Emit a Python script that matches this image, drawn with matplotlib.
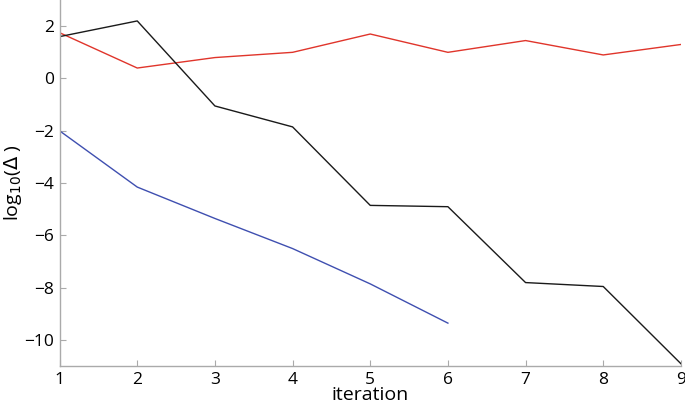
import matplotlib
matplotlib.use('Agg')
import matplotlib.pyplot as plt

plt.rcParams['font.family'] = ['Open Sans', 'DejaVu Sans']

iters = [1, 2, 3, 4, 5, 6, 7, 8, 9]
red_vals = [1.75, 0.4, 0.8, 1.0, 1.7, 1.0, 1.45, 0.9, 1.3]
black_vals = [1.6, 2.2, -1.05, -1.85, -4.85, -4.9, -7.8, -7.95, -10.9]
blue_iters = [1, 2, 3, 4, 5, 6]
blue_vals = [-2.0, -4.15, -5.35, -6.5, -7.85, -9.35]

fig = plt.figure(figsize=(6.85, 4.07), dpi=100)
ax = fig.add_axes([0.087, 0.1, 0.907, 0.9])

ax.plot(iters, red_vals, color='#e0352b', lw=1.0)
ax.plot(iters, black_vals, color='#1a1a1a', lw=1.0)
ax.plot(blue_iters, blue_vals, color='#3f4fb0', lw=1.0)

ax.set_xlim(1, 9)
ax.set_ylim(-11, 3)
ax.set_xticks(iters)
ax.set_yticks([-10, -8, -6, -4, -2, 0, 2])
ax.set_yticklabels(['\u221210', '\u22128', '\u22126', '\u22124', '\u22122', '0', '2'])

for s in ['top', 'right']:
    ax.spines[s].set_visible(False)
for s in ['left', 'bottom']:
    ax.spines[s].set_color('#aaaaaa')
    ax.spines[s].set_linewidth(1.0)
ax.tick_params(direction='in', length=4, color='#aaaaaa', labelsize=12.5, pad=4)

ax.set_xlabel('iteration', fontsize=14, labelpad=-1)
ax.set_ylabel(r'log$_{10}$($\Delta$ )', fontsize=14, labelpad=0)

fig.savefig('out.png', dpi=100)
